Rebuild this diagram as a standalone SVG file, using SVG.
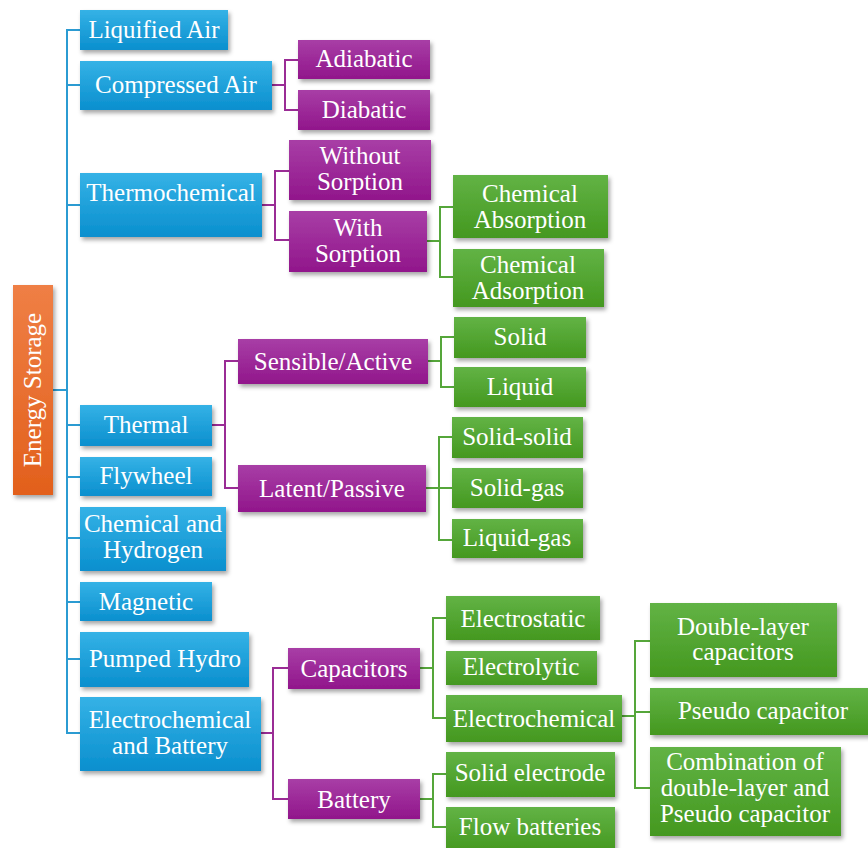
<svg xmlns="http://www.w3.org/2000/svg" width="868" height="848" viewBox="0 0 868 848">
<defs>
<linearGradient id="gB" x1="0" y1="0" x2="0" y2="1"><stop offset="0" stop-color="#35b2e6"/><stop offset="1" stop-color="#0a8fce"/></linearGradient>
<linearGradient id="gP" x1="0" y1="0" x2="0" y2="1"><stop offset="0" stop-color="#a83ea6"/><stop offset="1" stop-color="#91168b"/></linearGradient>
<linearGradient id="gG" x1="0" y1="0" x2="0" y2="1"><stop offset="0" stop-color="#62b345"/><stop offset="1" stop-color="#44981f"/></linearGradient>
<linearGradient id="gO" x1="0" y1="0" x2="0" y2="1"><stop offset="0" stop-color="#ef7f45"/><stop offset="1" stop-color="#e2601c"/></linearGradient>
<filter id="sh" x="-10%" y="-10%" width="130%" height="140%"><feDropShadow dx="2" dy="3" stdDeviation="2" flood-color="#000" flood-opacity="0.35"/></filter>
</defs>
<style>
.b{fill:url(#gB);filter:url(#sh)}
.p{fill:url(#gP);filter:url(#sh)}
.g{fill:url(#gG);filter:url(#sh)}
.o{fill:url(#gO);filter:url(#sh)}
text{font-family:"Liberation Serif","Times New Roman",serif;font-size:25px;fill:#fff;text-anchor:middle}
.cb{fill:none;stroke:#2b9bd2;stroke-width:2}
.cp{fill:none;stroke:#9a2c95;stroke-width:2}
.cg{fill:none;stroke:#55a63a;stroke-width:2}
</style>
<rect width="868" height="848" fill="#fff"/>
<g id="connectors">
<path class="cb" d="M53,390 H67 M80,30 H67 V733 H80 M67,85 H80 M67,205 H80 M67,425 H80 M67,477 H80 M67,538 H80 M67,602 H80 M67,659 H80"/>
<path class="cp" d="M272,85 H285 M298,60 H285 V110 H298"/>
<path class="cp" d="M262,205 H275 M289,171 H275 V240 H289"/>
<path class="cp" d="M212,425 H225 M238,361 H225 V488 H238"/>
<path class="cp" d="M261,733 H273 M288,668 H273 V799 H288"/>
<path class="cg" d="M427,241 H440 M453,207 H440 V277 H453"/>
<path class="cg" d="M428,361 H441 M454,337 H441 V387 H454"/>
<path class="cg" d="M426,488 H439 M452,437 H439 V540 H452 M439,488 H452"/>
<path class="cg" d="M420,668 H433 M446,618 H433 V718 H446"/>
<path class="cg" d="M420,799 H433 M446,774 H433 V827 H446"/>
<path class="cg" d="M622,716 H635 M650,641 H635 V788 H650 M635,712 H650"/>
</g>
<g id="energy-storage"><rect class="o" x="13" y="285" width="40" height="210"/><text transform="translate(41,390) rotate(-90)">Energy Storage</text></g>
<g id="liquified-air"><rect class="b" x="80" y="10" width="148" height="40"/><text x="154" y="38">Liquified Air</text></g>
<g id="compressed-air"><rect class="b" x="80" y="61" width="192" height="49"/><text x="176" y="93">Compressed Air</text></g>
<g id="thermochemical"><rect class="b" x="80" y="173" width="182" height="64"/><text x="171" y="201">Thermochemical</text></g>
<g id="thermal"><rect class="b" x="80" y="405" width="132" height="41"/><text x="146" y="433">Thermal</text></g>
<g id="flywheel"><rect class="b" x="80" y="457" width="132" height="39"/><text x="146" y="484">Flywheel</text></g>
<g id="chemical-hydrogen"><rect class="b" x="80" y="507" width="146" height="64"/><text x="153" y="532">Chemical and</text><text x="153" y="558">Hydrogen</text></g>
<g id="magnetic"><rect class="b" x="80" y="582" width="132" height="39"/><text x="146" y="610">Magnetic</text></g>
<g id="pumped-hydro"><rect class="b" x="80" y="632" width="169" height="55"/><text x="165" y="667">Pumped Hydro</text></g>
<g id="electrochemical-battery"><rect class="b" x="80" y="697" width="181" height="74"/><text x="170" y="728">Electrochemical</text><text x="170" y="754">and Battery</text></g>
<g id="adiabatic"><rect class="p" x="298" y="40" width="132" height="39"/><text x="364" y="67">Adiabatic</text></g>
<g id="diabatic"><rect class="p" x="298" y="90" width="132" height="40"/><text x="364" y="118">Diabatic</text></g>
<g id="without-sorption"><rect class="p" x="289" y="140" width="142" height="60"/><text x="360" y="164">Without</text><text x="360" y="190">Sorption</text></g>
<g id="with-sorption"><rect class="p" x="289" y="211" width="138" height="61"/><text x="358" y="236">With</text><text x="358" y="262">Sorption</text></g>
<g id="sensible-active"><rect class="p" x="238" y="339" width="190" height="45"/><text x="333" y="370">Sensible/Active</text></g>
<g id="latent-passive"><rect class="p" x="238" y="465" width="188" height="47"/><text x="332" y="497">Latent/Passive</text></g>
<g id="capacitors"><rect class="p" x="288" y="648" width="132" height="41"/><text x="354" y="677">Capacitors</text></g>
<g id="battery"><rect class="p" x="288" y="779" width="132" height="40"/><text x="354" y="808">Battery</text></g>
<g id="chemical-absorption"><rect class="g" x="453" y="175" width="155" height="63"/><text x="530" y="202">Chemical</text><text x="530" y="228">Absorption</text></g>
<g id="chemical-adsorption"><rect class="g" x="453" y="249" width="151" height="58"/><text x="528" y="273">Chemical</text><text x="528" y="299">Adsorption</text></g>
<g id="solid"><rect class="g" x="454" y="317" width="132" height="41"/><text x="520" y="345">Solid</text></g>
<g id="liquid"><rect class="g" x="454" y="367" width="132" height="40"/><text x="520" y="395">Liquid</text></g>
<g id="solid-solid"><rect class="g" x="452" y="417" width="131" height="41"/><text x="517" y="445">Solid-solid</text></g>
<g id="solid-gas"><rect class="g" x="452" y="468" width="131" height="40"/><text x="517" y="496">Solid-gas</text></g>
<g id="liquid-gas"><rect class="g" x="452" y="519" width="131" height="39"/><text x="517" y="546">Liquid-gas</text></g>
<g id="electrostatic"><rect class="g" x="446" y="596" width="154" height="44"/><text x="523" y="627">Electrostatic</text></g>
<g id="electrolytic"><rect class="g" x="446" y="651" width="151" height="34"/><text x="521" y="675">Electrolytic</text></g>
<g id="electrochemical"><rect class="g" x="446" y="695" width="176" height="47"/><text x="534" y="727">Electrochemical</text></g>
<g id="solid-electrode"><rect class="g" x="446" y="752" width="169" height="45"/><text x="530" y="781">Solid electrode</text></g>
<g id="flow-batteries"><rect class="g" x="446" y="807" width="169" height="45"/><text x="530" y="835">Flow batteries</text></g>
<g id="double-layer"><rect class="g" x="650" y="603" width="187" height="74"/><text x="743" y="635">Double-layer</text><text x="743" y="660">capacitors</text></g>
<g id="pseudo-capacitor"><rect class="g" x="650" y="688" width="226" height="47"/><text x="763" y="719">Pseudo capacitor</text></g>
<g id="combination"><rect class="g" x="650" y="747" width="191" height="89"/><text x="745" y="770">Combination of</text><text x="745" y="796">double-layer and</text><text x="745" y="822">Pseudo capacitor</text></g>
</svg>
